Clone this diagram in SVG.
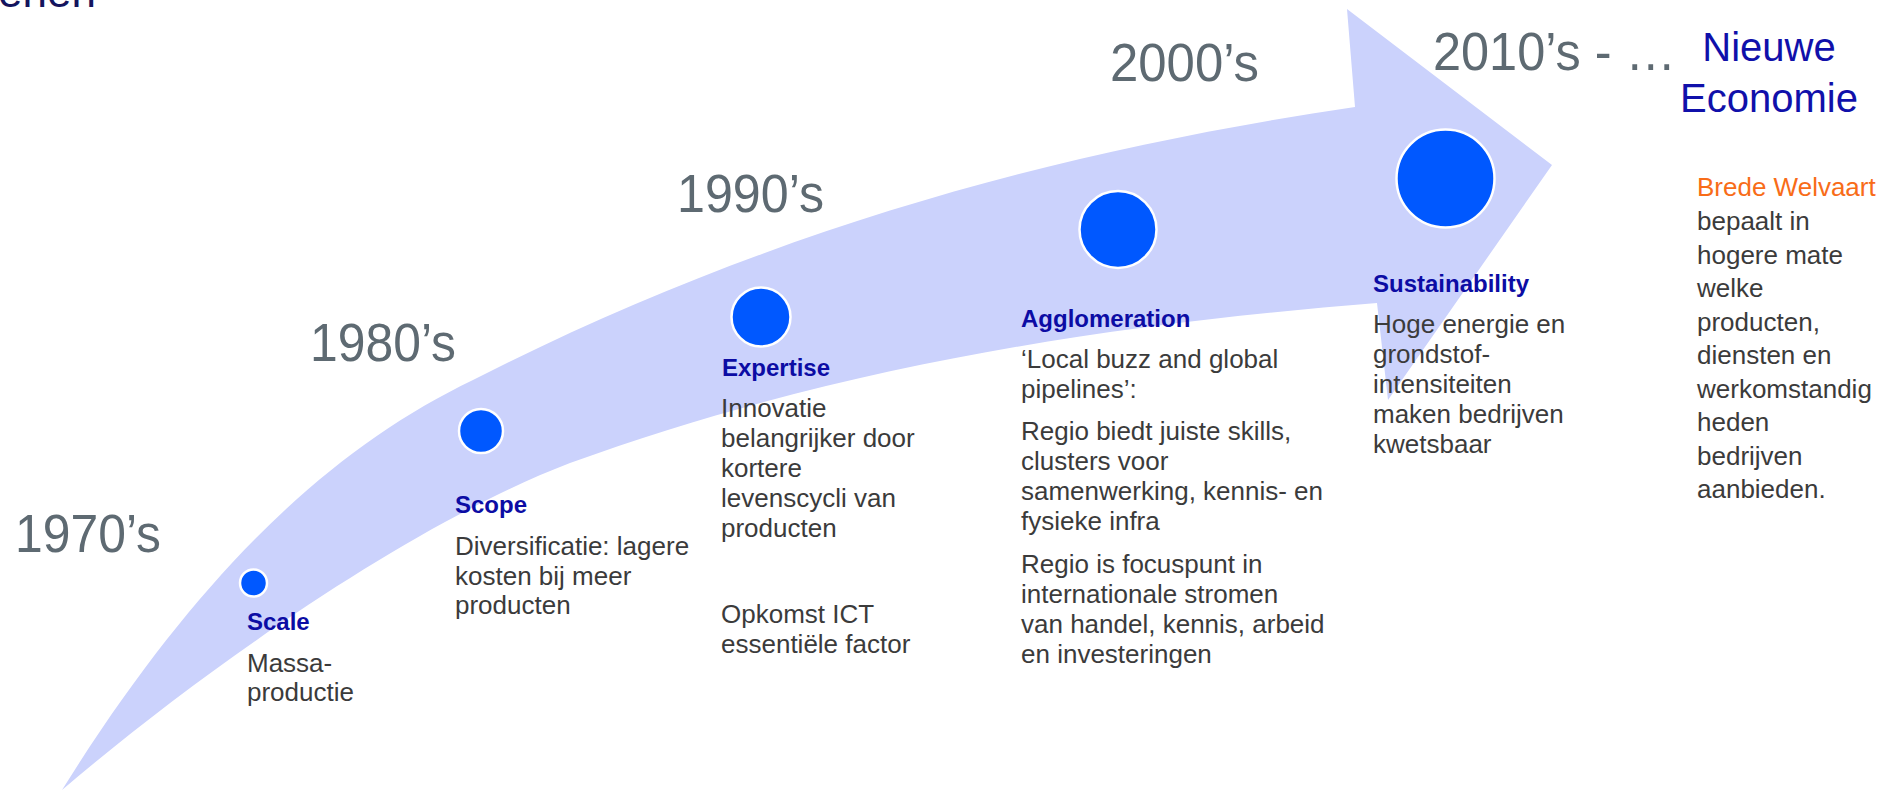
<svg xmlns="http://www.w3.org/2000/svg" width="1899" height="791" viewBox="0 0 1899 791">
<style>
text{font-family:"Liberation Sans",Arial,sans-serif}
.yr{font-size:54px;fill:#5e6a72}
.hd{font-size:24px;font-weight:bold;fill:#0c0ca4}
.bd{font-size:26px;fill:#3b3b3b}
.ne{font-size:40px;fill:#1010aa;text-anchor:middle}
.bw{font-size:26px;fill:#f86c18}
.dot{fill:#0058ff;stroke:#ffffff;stroke-width:2.5}
.arrow{fill:#cbd2fc}
</style>
<rect width="1899" height="791" fill="#ffffff"/>
<text x="-2" y="7" style="font-size:44px;fill:#14145e">ehen</text>
<g id="connectors">
<path class="arrow" d="M62,790 C192,582 323,452 473,380 C767,230 1061,150 1355,107 L1347,9 L1552,165 L1388,400 L1377,303 C1107,325 840,365 570,463 C420,520 212,662 62,790 Z"/>
</g>
<g id="node-1970s">
<text class="yr" x="15" y="552" textLength="146" lengthAdjust="spacingAndGlyphs">1970’s</text>
<circle class="dot" cx="253.5" cy="583" r="13.5"/>
<text class="hd" x="247" y="630">Scale</text>
<text class="bd" x="247" y="672">Massa-</text>
<text class="bd" x="247" y="701">productie</text>
</g>
<g id="node-1980s">
<text class="yr" x="310" y="361" textLength="146" lengthAdjust="spacingAndGlyphs">1980’s</text>
<circle class="dot" cx="481" cy="431" r="22"/>
<text class="hd" x="455" y="513">Scope</text>
<text class="bd" x="455" y="555">Diversificatie: lagere</text>
<text class="bd" x="455" y="584.5">kosten bij meer</text>
<text class="bd" x="455" y="614">producten</text>
</g>
<g id="node-1990s">
<text class="yr" x="677" y="212" textLength="147" lengthAdjust="spacingAndGlyphs">1990’s</text>
<circle class="dot" cx="761" cy="317" r="29.5"/>
<text class="hd" x="722" y="376">Expertise</text>
<text class="bd" x="721" y="417">Innovatie</text>
<text class="bd" x="721" y="447">belangrijker door</text>
<text class="bd" x="721" y="477">kortere</text>
<text class="bd" x="721" y="507">levenscycli van</text>
<text class="bd" x="721" y="537">producten</text>
<text class="bd" x="721" y="623">Opkomst ICT</text>
<text class="bd" x="721" y="653">essentiële factor</text>
</g>
<g id="node-2000s">
<text class="yr" x="1110" y="81" textLength="149" lengthAdjust="spacingAndGlyphs">2000’s</text>
<circle class="dot" cx="1118" cy="229.5" r="38.5"/>
<text class="hd" x="1021" y="327">Agglomeration</text>
<text class="bd" x="1021" y="368">‘Local buzz and global</text>
<text class="bd" x="1021" y="398">pipelines’:</text>
<text class="bd" x="1021" y="440">Regio biedt juiste skills,</text>
<text class="bd" x="1021" y="470">clusters voor</text>
<text class="bd" x="1021" y="500">samenwerking, kennis- en</text>
<text class="bd" x="1021" y="530">fysieke infra</text>
<text class="bd" x="1021" y="573">Regio is focuspunt in</text>
<text class="bd" x="1021" y="603">internationale stromen</text>
<text class="bd" x="1021" y="633">van handel, kennis, arbeid</text>
<text class="bd" x="1021" y="663">en investeringen</text>
</g>
<g id="node-2010s">
<text class="yr" x="1433" y="70" textLength="243" lengthAdjust="spacingAndGlyphs">2010’s - …</text>
<circle class="dot" cx="1445.5" cy="178.5" r="49"/>
<text class="hd" x="1373" y="292">Sustainability</text>
<text class="bd" x="1373" y="333">Hoge energie en</text>
<text class="bd" x="1373" y="363">grondstof-</text>
<text class="bd" x="1373" y="393">intensiteiten</text>
<text class="bd" x="1373" y="423">maken bedrijven</text>
<text class="bd" x="1373" y="453">kwetsbaar</text>
</g>
<g id="node-nieuwe-economie">
<text class="ne" x="1769" y="61">Nieuwe</text>
<text class="ne" x="1769" y="112">Economie</text>
<text class="bw" x="1697" y="196">Brede Welvaart</text>
<text class="bd" x="1697" y="230">bepaalt in</text>
<text class="bd" x="1697" y="263.5">hogere mate</text>
<text class="bd" x="1697" y="297">welke</text>
<text class="bd" x="1697" y="330.5">producten,</text>
<text class="bd" x="1697" y="364">diensten en</text>
<text class="bd" x="1697" y="397.5">werkomstandig</text>
<text class="bd" x="1697" y="431">heden</text>
<text class="bd" x="1697" y="464.5">bedrijven</text>
<text class="bd" x="1697" y="498">aanbieden.</text>
</g>
</svg>
